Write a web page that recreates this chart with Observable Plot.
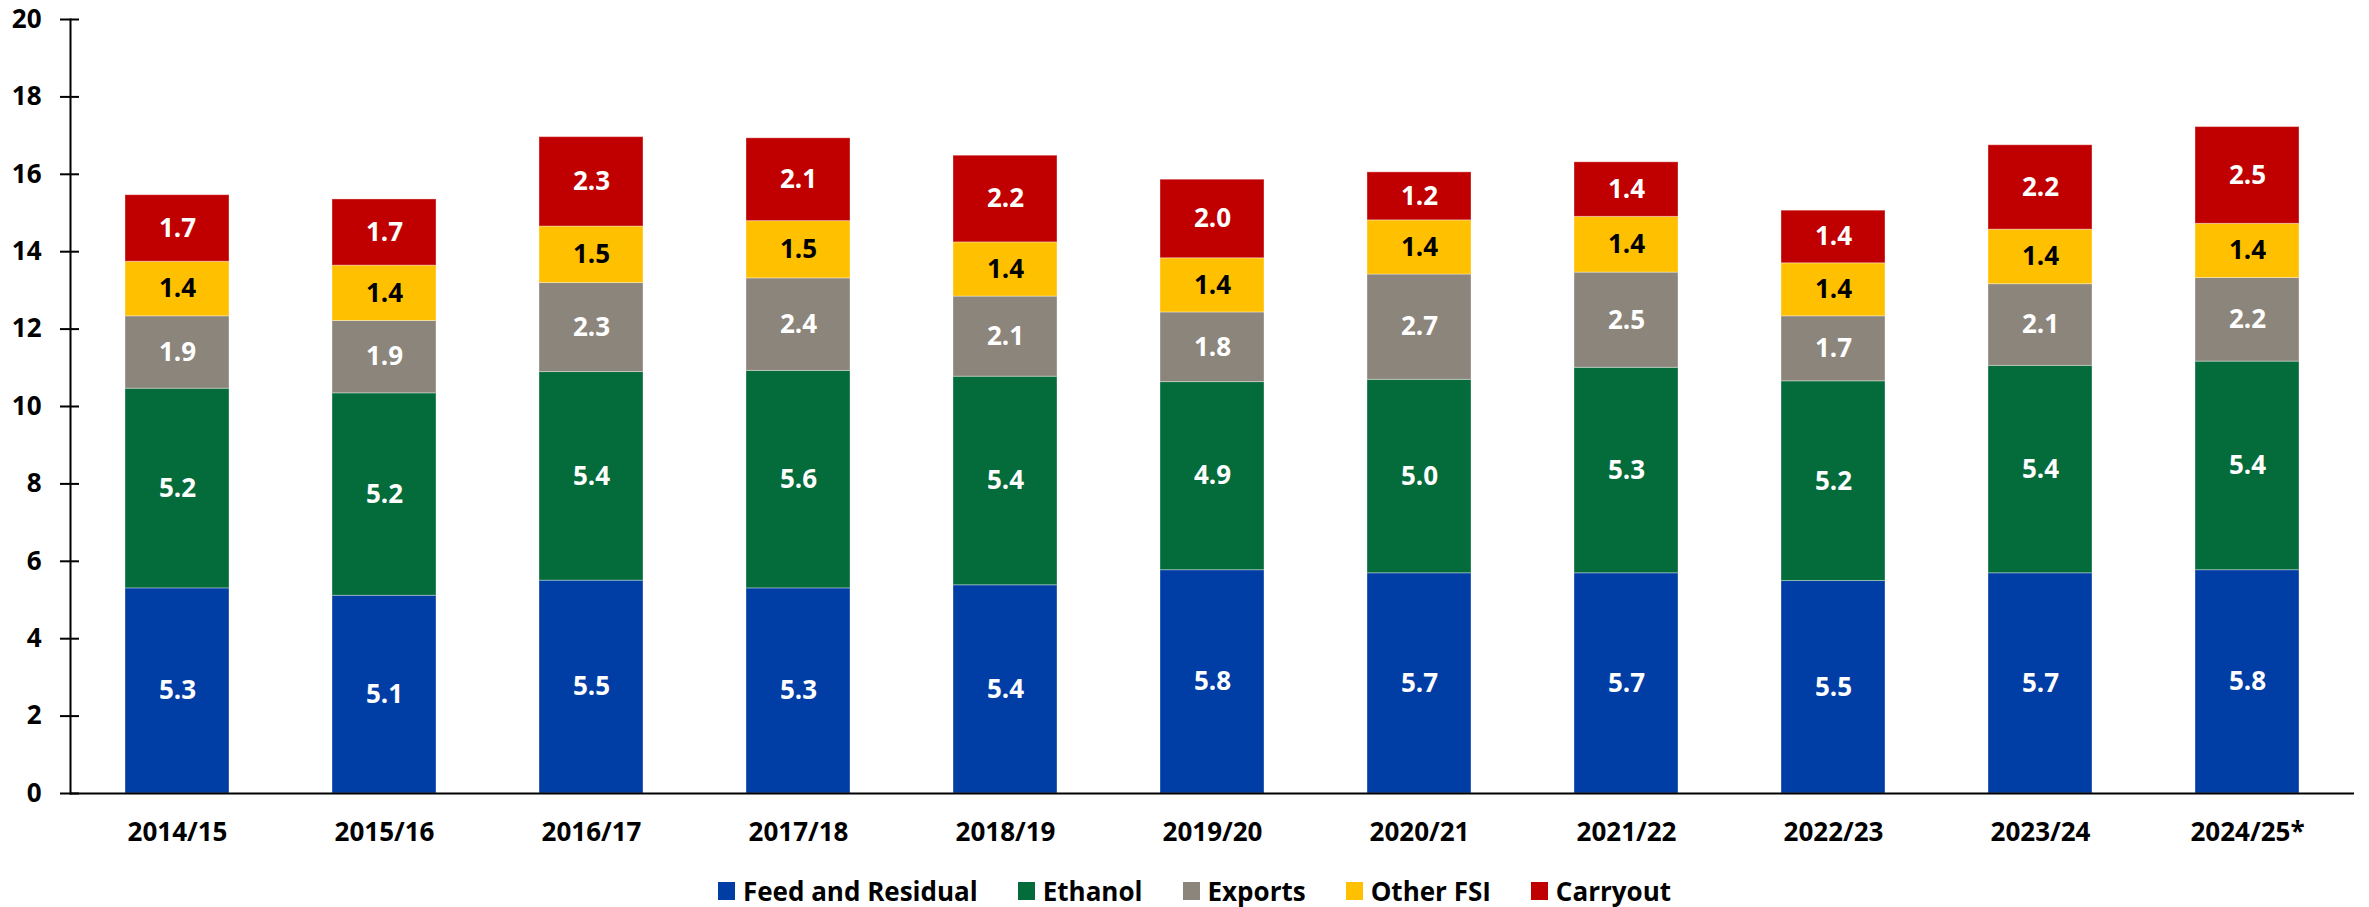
<!DOCTYPE html>
<html>
<head>
<meta charset="utf-8">
<script src="https://cdn.jsdelivr.net/npm/d3@7"></script>
<script src="https://cdn.jsdelivr.net/npm/@observablehq/plot@0.6"></script>
<style>
  html, body { margin: 0; padding: 0; background: #fff; }
  body { width: 2369px; height: 907px; overflow: hidden; font-family: "Open Sans", sans-serif; }
  #legend { display: flex; justify-content: center; align-items: center; height: 32px; padding-top: 15px; padding-left: 20px; font-weight: 700; font-size: 26px; color: #000; }
  .item { display: flex; align-items: center; margin: 0 20px; }
  .sw { width: 17px; height: 18px; margin-right: 8px; }
</style>
</head>
<body>
<div id="chart"></div>
<div id="legend"></div>
<script>
const years = ["2014/15","2015/16","2016/17","2017/18","2018/19","2019/20","2020/21","2021/22","2022/23","2023/24","2024/25*"];
const series = ["Feed and Residual","Ethanol","Exports","Other FSI","Carryout"];
const colors = ["#003DA5","#046B3A","#8C857B","#FFC000","#C00000"];
const feed    = [5.30,5.11,5.50,5.30,5.38,5.77,5.69,5.69,5.49,5.69,5.77];
const ethanol = [5.16,5.23,5.39,5.62,5.39,4.86,5.00,5.31,5.16,5.36,5.39];
const exportsV= [1.87,1.87,2.30,2.39,2.07,1.80,2.72,2.46,1.68,2.11,2.16];
const otherFSI= [1.41,1.43,1.46,1.48,1.40,1.40,1.40,1.44,1.37,1.41,1.40];
const carryout= [1.72,1.71,2.31,2.14,2.24,2.03,1.24,1.41,1.36,2.18,2.50];
const yTicks = [0,2,4,6,8,10,12,14,16,18,20];

const seriesValues = [feed, ethanol, exportsV, otherFSI, carryout];
const data = [];
years.forEach((yr, i) => {
  series.forEach((s, j) => data.push({year: yr, series: s, value: seriesValues[j][i]}));
});

const W = 2369, H = 860;
const chart = Plot.plot({
  width: W,
  height: H,
  marginTop: 19,
  marginBottom: H - 793,
  marginLeft: 70,
  marginRight: 15,
  style: {fontFamily: "'Open Sans', sans-serif", fontWeight: 700, fontSize: "26px", color: "#000", background: "#fff"},
  x: {domain: years, paddingInner: 0.5, paddingOuter: 0.25, label: null},
  y: {domain: [0, 20], label: null},
  color: {domain: series, range: colors},
  marks: [
    Plot.barY(data, Plot.stackY({x: "year", y: "value", fill: "series", stroke: "#ffffff", strokeWidth: 1, strokeOpacity: 0.35})),
    Plot.text(data, Plot.stackY({x: "year", y: "value", text: d => d.series === "Other FSI" ? "" : d.value.toFixed(1), fill: "#ffffff", fontSize: 26, fontWeight: 700})),
    Plot.text(data, Plot.stackY({x: "year", y: "value", text: d => d.series === "Other FSI" ? d.value.toFixed(1) : "", fill: "#000000", fontSize: 26, fontWeight: 700})),
    Plot.axisY({ticks: yTicks, tickSize: 19, dx: 9, text: null, stroke: "#000", strokeWidth: 2}),
    Plot.axisY({ticks: yTicks, tickSize: 0, tickPadding: 29, fontSize: 26, fontWeight: 700, fill: "#000"}),
    Plot.axisX({tickSize: 0, tickPadding: 29, fontSize: 26, fontWeight: 700, fill: "#000"}),
    Plot.frame({anchor: "left", stroke: "#000", strokeWidth: 2}),
    Plot.ruleY([0], {stroke: "#000", strokeWidth: 2})
  ]
});
document.getElementById("chart").appendChild(chart);

const legend = document.getElementById("legend");
series.forEach((s, j) => {
  const it = document.createElement("div");
  it.className = "item";
  const sw = document.createElement("div");
  sw.className = "sw";
  sw.style.background = colors[j];
  const t = document.createElement("span");
  t.textContent = s;
  it.appendChild(sw); it.appendChild(t);
  legend.appendChild(it);
});
</script>
</body>
</html>
